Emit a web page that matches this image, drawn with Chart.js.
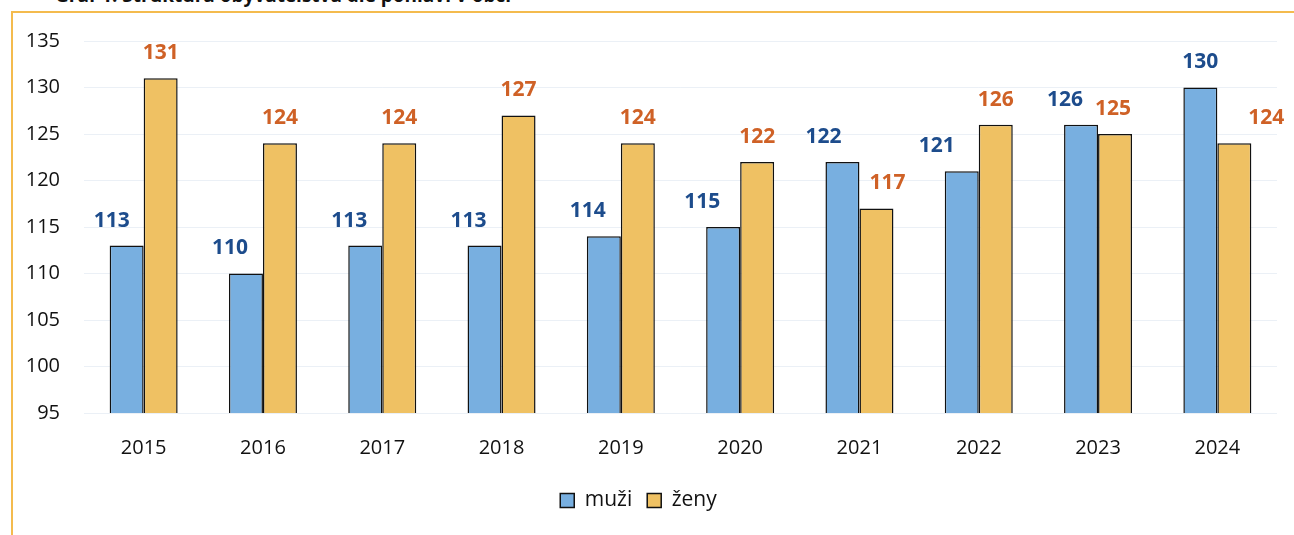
<!DOCTYPE html>
<html lang="cs">
<head>
<meta charset="utf-8">
<title>Graf 1</title>
<script src="https://cdn.jsdelivr.net/npm/chart.js@4"></script>
<style>
    html, body {
        margin: 0;
        padding: 0;
        background: #fff;
        overflow: hidden;
    }
    .frame {
        position: absolute;
        left: 11px;
        top: 11px;
        width: 1320px;
        height: 560px;
        border: 2px solid #f4bb4e;
    }
    .title {
        position: absolute;
        left: 55px;
        top: -18px;
        font: bold 19px "Open Sans", sans-serif;
        color: #111;
        white-space: nowrap;
    }
    .wrap {
        position: absolute;
        left: 0;
        top: 0;
        width: 1294px;
        height: 535px;
    }
</style>
</head>
<body>
<div class="frame"></div>
<div class="title">Graf 1: Struktura obyvatelstva dle pohlaví v obci</div>
<div class="wrap"><canvas id="chart"></canvas></div>
<script>
// Data
const years = ['2015', '2016', '2017', '2018', '2019', '2020', '2021', '2022', '2023', '2024'];
const muzi = [113, 110, 113, 113, 114, 115, 122, 121, 126, 130];
const zeny = [131, 124, 124, 127, 124, 122, 117, 126, 125, 124];
const yTicks = [95, 100, 105, 110, 115, 120, 125, 130, 135];

// Label nudges (px) – the original labels were moved by hand
const muziNudgeX = [-15, -16, -16, -16, -16, -21, -19, -25, -16, 0];
const zenyNudgeX = [0, 0, 0, 0, 0, 0, 11, 0, -2, 32];

const BLUE = '#78afe0';
const ORANGE = '#efc163';
const BLUE_TEXT = '#1d4c8c';
const ORANGE_TEXT = '#cf6126';

// Draw value labels above bars
const valueLabels = {
    id: 'valueLabels',
    afterDatasetsDraw(chart) {
        const ctx = chart.ctx;
        ctx.save();
        ctx.font = 'bold 21px "Open Sans", sans-serif';
        ctx.textAlign = 'center';
        ctx.textBaseline = 'middle';
        chart.data.datasets.forEach((ds, i) => {
            const meta = chart.getDatasetMeta(i);
            const nudges = i === 0 ? muziNudgeX : zenyNudgeX;
            ctx.fillStyle = i === 0 ? BLUE_TEXT : ORANGE_TEXT;
            meta.data.forEach((bar, j) => {
                ctx.fillText(ds.data[j], bar.x + nudges[j], bar.y - 25);
            });
        });
        ctx.restore();
    }
};

const ctx = document.getElementById('chart').getContext('2d');
new Chart(ctx, {
    type: 'bar',
    data: {
        labels: years,
        datasets: [
            {
                label: 'muži',
                data: muzi,
                backgroundColor: BLUE,
                borderColor: '#111',
                borderWidth: 1.5,
                borderSkipped: false
            },
            {
                label: 'ženy',
                data: zeny,
                backgroundColor: ORANGE,
                borderColor: '#111',
                borderWidth: 1.5,
                borderSkipped: false
            }
        ]
    },
    options: {
        responsive: true,
        maintainAspectRatio: false,
        animation: false,
        layout: {
            padding: { top: 41, right: 17, left: 0, bottom: 14 }
        },
        datasets: {
            bar: {
                categoryPercentage: 0.57,
                barPercentage: 1.0
            }
        },
        scales: {
            x: {
                grid: { display: false },
                border: { display: false },
                ticks: {
                    color: '#111',
                    padding: 15,
                    font: { family: '"Open Sans", sans-serif', size: 20 }
                }
            },
            y: {
                min: 95,
                max: 135,
                afterFit(scale) { scale.width = 84; },
                afterBuildTicks(scale) {
                    scale.ticks = yTicks.map(v => ({ value: v }));
                },
                grid: {
                    drawTicks: false,
                    color: 'rgba(190, 205, 225, 0.3)'
                },
                border: { display: false },
                ticks: {
                    color: '#111',
                    padding: 24,
                    font: { family: '"Open Sans", sans-serif', size: 20 }
                }
            }
        },
        plugins: {
            legend: {
                position: 'bottom',
                labels: {
                    color: '#111',
                    boxWidth: 14,
                    boxHeight: 14,
                    padding: 15,
                    font: { family: '"Open Sans", sans-serif', size: 21 }
                }
            },
            tooltip: { enabled: false }
        }
    },
    plugins: [valueLabels]
});
</script>
</body>
</html>
